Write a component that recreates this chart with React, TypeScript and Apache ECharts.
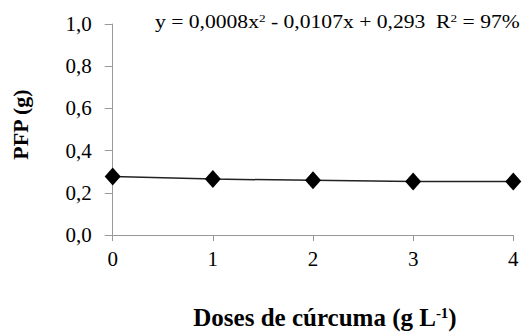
import React, { useEffect, useRef } from "react";
import * as echarts from "echarts";

const doses = [0, 1, 2, 3, 4];
const pfp = [0.277, 0.265, 0.259, 0.254, 0.253];
const yTicks = [0, 0.2, 0.4, 0.6, 0.8, 1.0];
const equation = "y = 0,0008x{sup|2} - 0,0107x + 0,293  R{sup|2} = 97%";

export default function App() {
  const ref = useRef<HTMLDivElement>(null);
  useEffect(() => {
    const chart = echarts.init(ref.current!, null, { renderer: "svg" });
    const font = "Liberation Serif, Times New Roman, serif";
    chart.setOption({
      animation: false,
      backgroundColor: "#fff",
      textStyle: { fontFamily: font },
      grid: { left: 112.7, right: 10.7, top: 24, bottom: 94.3, containLabel: false },
      xAxis: {
        type: "value",
        min: 0,
        max: 4,
        interval: 1,
        name: "Doses de cúrcuma (g L{sup|-1})",
        nameLocation: "middle",
        nameGap: 70,
        nameTextStyle: {
          fontFamily: font,
          fontWeight: "bold",
          fontSize: 25,
          color: "#000",
          padding: [0, 0, 0, 24],
          rich: { sup: { fontFamily: font, fontWeight: "bold", fontSize: 15, color: "#000", verticalAlign: "top", padding: [0, 0, 10, 0] } },
        },
        axisLine: { show: true, lineStyle: { color: "#999", width: 1 } },
        axisTick: { show: true, inside: false, length: 6, lineStyle: { color: "#999" } },
        axisLabel: { fontFamily: font, fontSize: 21, color: "#000", margin: 13 },
        splitLine: { show: false },
      },
      yAxis: {
        type: "value",
        min: 0,
        max: 1,
        interval: 0.2,
        name: "PFP (g)",
        nameLocation: "middle",
        nameGap: 81,
        nameRotate: 90,
        nameTextStyle: { fontFamily: font, fontWeight: "bold", fontSize: 22, color: "#000", padding: [0, 0, 0, 10] },
        axisLine: { show: true, lineStyle: { color: "#999", width: 1 } },
        axisTick: { show: true, inside: false, length: 8, lineStyle: { color: "#999" } },
        axisLabel: {
          fontFamily: font,
          fontSize: 21,
          color: "#000",
          margin: 21,
          formatter: (v: number) => {
            const t = yTicks.find((x) => Math.abs(x - v) < 1e-9);
            return (t ?? v).toFixed(1).replace(".", ",");
          },
        },
        splitLine: { show: false },
      },
      graphic: [
        {
          type: "text",
          x: 155,
          y: 13,
          scaleX: 1.2,
          style: {
            text: equation,
            fontFamily: font,
            fontSize: 18,
            fill: "#000",
            rich: { sup: { fontFamily: font, fontSize: 11, fill: "#000", verticalAlign: "top", padding: [0, 0, 6, 0] } },
          },
        },
      ],
      series: [
        {
          type: "line",
          data: doses.map((d, i) => [d, pfp[i]]),
          symbol: "diamond",
          symbolSize: [16, 18],
          itemStyle: { color: "#000" },
          lineStyle: { color: "#222", width: 1.5 },
        },
      ],
    });
    return () => chart.dispose();
  }, []);
  return <div ref={ref} style={{ width: 524, height: 335, position: "absolute", left: 0, top: 0 }} />;
}
